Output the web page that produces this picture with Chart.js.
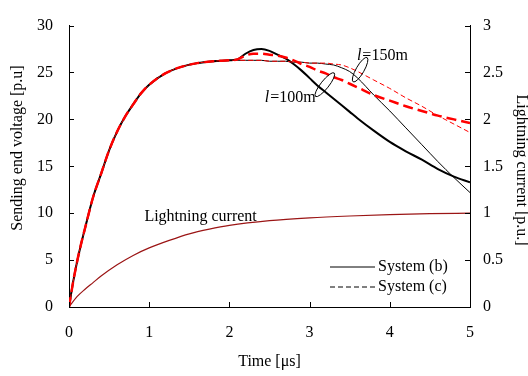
<!DOCTYPE html>
<html lang="en">
<head>
  <meta charset="UTF-8" />
  <title>Sending end voltage</title>
  <script src="https://cdn.jsdelivr.net/npm/chart.js"></script>
  <style>
    body {
      margin: 0;
      background: #fff;
    }
    canvas {
      display: block;
    }
  </style>
</head>
<body>
  <canvas id="chart" width="528" height="376"></canvas>

  <script>
    // time axis [µs] shared by the four voltage curves
    const timeUs = [0, 0.05, 0.1, 0.15, 0.2, 0.3, 0.4, 0.5, 0.6, 0.7, 0.8, 0.9, 1.0, 1.2, 1.4, 1.6, 1.8, 2.0,
      2.1, 2.2, 2.3, 2.4, 2.5, 2.6, 2.7, 2.8, 2.9, 3.0, 3.1, 3.2, 3.3, 3.4, 3.5, 3.6, 3.8, 4.0, 4.2, 4.4, 4.6, 4.8, 5.0];

    // sending end voltage [p.u]
    const sysB100 = [0, 2.6, 4.8, 6.7, 8.4, 11.7, 14.2, 16.7, 18.7, 20.3, 21.6, 22.8, 23.7, 24.9, 25.6, 26.0, 26.2, 26.3,
      26.4, 27.0, 27.4, 27.5, 27.3, 26.9, 26.5, 25.9, 25.2, 24.4, 23.6, 22.9, 22.2, 21.5, 20.8, 20.1, 18.8, 17.6, 16.6, 15.7, 14.7, 13.9, 13.3];
    const sysB150 = [0, 2.6, 4.8, 6.7, 8.4, 11.7, 14.2, 16.7, 18.7, 20.3, 21.6, 22.8, 23.7, 24.9, 25.6, 26.0, 26.2, 26.3,
      26.3, 26.3, 26.3, 26.3, 26.2, 26.2, 26.2, 26.1, 26.1, 26.0, 26.0, 25.9, 25.8, 25.5, 25.1, 24.4, 22.6, 20.9, 19.1, 17.3, 15.5, 13.8, 12.2];
    const sysC100 = [0, 2.6, 4.8, 6.7, 8.4, 11.7, 14.2, 16.7, 18.7, 20.3, 21.6, 22.8, 23.7, 24.9, 25.6, 26.0, 26.2, 26.3,
      26.4, 26.8, 27.0, 27.0, 26.9, 26.8, 26.6, 26.3, 25.9, 25.6, 25.2, 24.9, 24.5, 24.2, 23.8, 23.4, 22.6, 22.0, 21.4, 20.9, 20.4, 20.0, 19.6];
    const sysC150 = [0, 2.6, 4.8, 6.7, 8.4, 11.7, 14.2, 16.7, 18.7, 20.3, 21.6, 22.8, 23.7, 24.9, 25.6, 26.0, 26.2, 26.3,
      26.3, 26.3, 26.3, 26.3, 26.2, 26.2, 26.2, 26.1, 26.1, 26.0, 26.0, 26.0, 25.9, 25.8, 25.5, 25.1, 24.2, 23.3, 22.3, 21.4, 20.4, 19.5, 18.6];

    // lightning current [p.u.]
    const currentT = [0, 0.1, 0.2, 0.3, 0.4, 0.6, 0.8, 1.0, 1.25, 1.5, 1.75, 2.0, 2.5, 3.0, 3.5, 4.0, 4.5, 5.0];
    const currentPu = [0, 0.11, 0.19, 0.26, 0.33, 0.45, 0.55, 0.63, 0.71, 0.78, 0.83, 0.87, 0.92, 0.95, 0.97, 0.985, 0.995, 1.0];

    const legendLabels = ['System (b)', 'System (c)'];
    const voltTicks = { min: 0, max: 30, step: 5 };
    const currTicks = { min: 0, max: 3, step: 0.5 };

    const serif = "'Liberation Serif', 'Times New Roman', serif";
    const tickFont = { family: serif, size: 16 };
    Chart.defaults.font.family = serif;
    Chart.defaults.font.size = 16;
    Chart.defaults.color = '#000';

    const pts = (xs, ys) => xs.map((x, i) => ({ x: x, y: ys[i] }));
    const plain = v => String(v);

    // inward tick marks
    const innerTicks = {
      id: 'innerTicks',
      afterDatasetsDraw(chart) {
        const { ctx, chartArea: a, scales } = chart;
        ctx.save();
        ctx.strokeStyle = '#000';
        ctx.lineWidth = 1;
        ctx.beginPath();
        scales.x.ticks.forEach(t => {
          const px = Math.round(scales.x.getPixelForValue(t.value)) + 0.5;
          ctx.moveTo(px, a.bottom);
          ctx.lineTo(px, a.bottom - 5);
        });
        scales.y.ticks.forEach(t => {
          const py = Math.round(scales.y.getPixelForValue(t.value)) + 0.5;
          ctx.moveTo(a.left, py);
          ctx.lineTo(a.left + 5, py);
        });
        scales.y2.ticks.forEach(t => {
          const py = Math.round(scales.y2.getPixelForValue(t.value)) + 0.5;
          ctx.moveTo(a.right, py);
          ctx.lineTo(a.right - 5, py);
        });
        ctx.stroke();
        ctx.restore();
      }
    };

    // labels, ellipses, legend and axis titles
    const notes = {
      id: 'notes',
      afterDraw(chart) {
        const { ctx, chartArea: a, scales } = chart;
        const X = v => scales.x.getPixelForValue(v);
        const Y = v => scales.y.getPixelForValue(v);
        ctx.save();
        ctx.fillStyle = '#000';
        ctx.textBaseline = 'middle';
        ctx.font = '16px ' + serif;

        ctx.fillText('Lightning current', X(0.94), Y(9.6));

        const lenLabel = (txt, x, y) => {
          ctx.font = 'italic 16px ' + serif;
          ctx.fillText('l', x, y);
          const w = ctx.measureText('l').width;
          ctx.font = '16px ' + serif;
          ctx.fillText(txt, x + w + 1, y);
        };
        lenLabel('=100m', X(2.44), Y(22.3));
        lenLabel('=150m', X(3.59), Y(26.8));

        ctx.strokeStyle = '#000';
        ctx.lineWidth = 1;
        ctx.beginPath();
        ctx.ellipse(X(3.19), Y(23.7), 15, 4, -0.9, 0, Math.PI * 2);
        ctx.stroke();
        ctx.beginPath();
        ctx.ellipse(X(3.63), Y(25.3), 14, 4, -1.05, 0, Math.PI * 2);
        ctx.stroke();

        // legend
        const lx = a.right - 140;
        const ly = [a.bottom - 40, a.bottom - 20];
        ctx.beginPath();
        ctx.moveTo(lx, ly[0]);
        ctx.lineTo(lx + 45, ly[0]);
        ctx.stroke();
        ctx.setLineDash([5, 3]);
        ctx.beginPath();
        ctx.moveTo(lx, ly[1]);
        ctx.lineTo(lx + 45, ly[1]);
        ctx.stroke();
        ctx.setLineDash([]);
        ctx.fillText(legendLabels[0], lx + 48, ly[0]);
        ctx.fillText(legendLabels[1], lx + 48, ly[1]);

        // axis titles
        ctx.textAlign = 'center';
        ctx.save();
        ctx.translate(18, 148);
        ctx.rotate(-Math.PI / 2);
        ctx.fillText('Sending end voltage [p.u]', 0, 0);
        ctx.restore();
        ctx.save();
        ctx.translate(521, 170);
        ctx.rotate(Math.PI / 2);
        ctx.fillText('Lightning current [p.u.]', 0, 0);
        ctx.restore();
        ctx.restore();
      }
    };

    const ctx = document.getElementById('chart').getContext('2d');
    const chart = new Chart(ctx, {
      type: 'line',
      data: {
        datasets: [
          { label: 'System (c) l=100m', data: pts(timeUs, sysC100), borderColor: '#ff0000', borderWidth: 2.5, borderDash: [10, 5] },
          { label: 'System (c) l=150m', data: pts(timeUs, sysC150), borderColor: '#ff0000', borderWidth: 1, borderDash: [5, 3] },
          { label: 'System (b) l=100m', data: pts(timeUs, sysB100), borderColor: '#000', borderWidth: 2 },
          { label: 'System (b) l=150m', data: pts(timeUs, sysB150), borderColor: '#000', borderWidth: 1 },
          { label: 'Lightning current', data: pts(currentT, currentPu), borderColor: '#9b1515', borderWidth: 1.2, yAxisID: 'y2' }
        ]
      },
      options: {
        responsive: false,
        animation: false,
        events: [],
        layout: { padding: { top: 13, left: 0, right: 0, bottom: 0 } },
        elements: {
          point: { radius: 0 },
          line: { cubicInterpolationMode: 'monotone', fill: false }
        },
        plugins: {
          legend: { display: false },
          tooltip: { enabled: false }
        },
        scales: {
          x: {
            type: 'linear', min: 0, max: 5,
            ticks: { stepSize: 1, padding: 16, font: tickFont, color: '#000', callback: plain },
            grid: { display: false, drawTicks: false },
            border: { color: '#000', width: 1 },
            title: { display: true, text: 'Time [μs]', color: '#000', font: { family: serif, size: 16, lineHeight: 1 }, padding: { top: 0, bottom: 6 } },
            afterFit: s => { s.height = 69; }
          },
          y: {
            position: 'left', min: voltTicks.min, max: voltTicks.max,
            ticks: { stepSize: voltTicks.step, padding: 16, font: tickFont, color: '#000', callback: plain },
            grid: { display: false, drawTicks: false },
            border: { color: '#000', width: 1 },
            afterFit: s => { s.width = 69; }
          },
          y2: {
            position: 'right', min: currTicks.min, max: currTicks.max,
            ticks: { stepSize: currTicks.step, padding: 13, font: tickFont, color: '#000', callback: plain },
            grid: { display: false, drawTicks: false },
            border: { color: '#000', width: 1 },
            afterFit: s => { s.width = 58; }
          }
        }
      },
      plugins: [innerTicks, notes]
    });
  </script>
</body>
</html>
